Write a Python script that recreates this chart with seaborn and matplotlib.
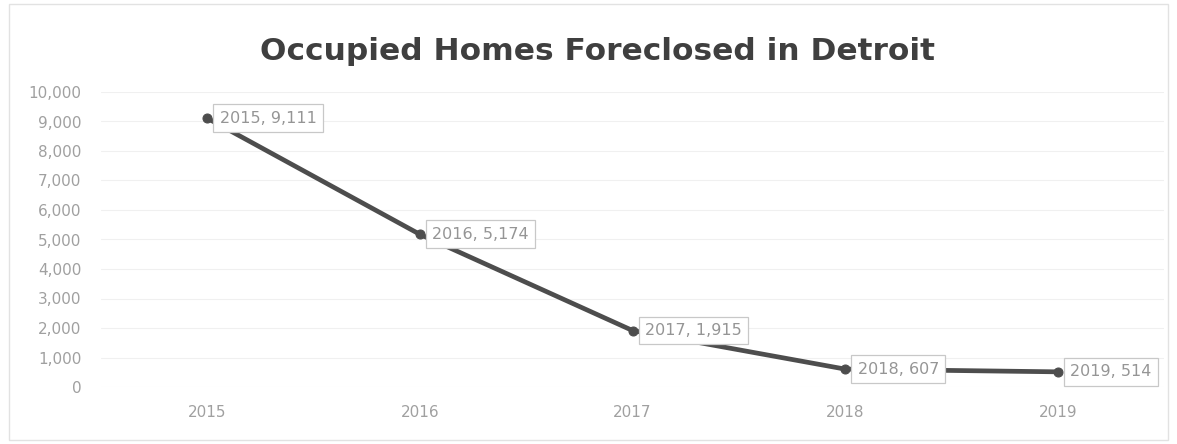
import matplotlib
matplotlib.use("Agg")
import matplotlib.pyplot as plt
import seaborn as sns
import pandas as pd
from matplotlib.patches import Rectangle

# Occupied homes foreclosed in Detroit, by year
years = ["2015", "2016", "2017", "2018", "2019"]
foreclosures = [9111, 5174, 1915, 607, 514]
y_ticks = [0, 1000, 2000, 3000, 4000, 5000, 6000, 7000, 8000, 9000, 10000]

df = pd.DataFrame({"year": years, "homes": foreclosures})

sns.set_theme(style="white")
plt.rcParams["font.family"] = ["DejaVu Sans"]

fig = plt.figure(figsize=(11.77, 4.44), dpi=100)
ax = fig.add_axes([101 / 1177, 1 - 387 / 444, (1164 - 101) / 1177, (387 - 92) / 444])

line_color = "#4d4d4d"
sns.lineplot(data=df, x="year", y="homes", ax=ax, color=line_color,
             linewidth=3.4, marker="o", markersize=6.5,
             markeredgecolor=line_color, markerfacecolor=line_color, sort=False)

ax.set_xlim(-0.5, len(years) - 0.5)
ax.set_ylim(0, 10000)
ax.set_yticks(y_ticks)
ax.set_yticklabels([f"{v:,}" for v in y_ticks])
ax.set_xlabel("")
ax.set_ylabel("")

ax.grid(axis="y", color="#f0f0f0", linewidth=0.8)
ax.set_axisbelow(True)
for s in ax.spines.values():
    s.set_visible(False)
ax.tick_params(axis="both", length=0, colors="#a0a0a0", labelsize=11)
ax.tick_params(axis="x", pad=13)
ax.tick_params(axis="y", pad=14)

# Data labels showing "year, value"
for i, (yr, val) in enumerate(zip(years, foreclosures)):
    ax.annotate(f"{yr}, {val:,}", xy=(i, val), xytext=(9, 0),
                textcoords="offset points", va="center", ha="left",
                fontsize=11.5, color="#959595",
                bbox=dict(boxstyle="square,pad=0.4", fc="white",
                          ec="#c8c8c8", lw=0.9))

fig.text(0.508, 1 - 51 / 444, "Occupied Homes Foreclosed in Detroit",
         ha="center", va="center", fontsize=22.5, fontweight="bold",
         color="#3f3f3f")

# Light outer frame of the chart area
fig.patches.append(Rectangle((9 / 1177, 4 / 444), 1 - 18 / 1177, 1 - 8 / 444,
                             transform=fig.transFigure, fill=False,
                             ec="#e2e2e2", lw=1))

fig.savefig("out.png", dpi=100, facecolor="white")
